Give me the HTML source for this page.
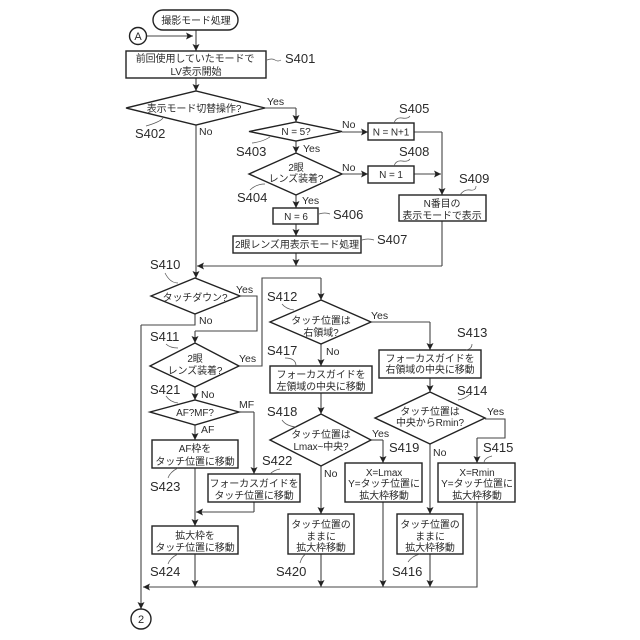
<!DOCTYPE html>
<html><head><meta charset="utf-8"><style>
html,body{margin:0;padding:0;background:#fff}
svg{display:block}
.b{fill:#fff;stroke:#222;stroke-width:1.4}
.l{fill:none;stroke:#444;stroke-width:1.1}
.a{fill:none;stroke:#444;stroke-width:1.1;marker-end:url(#m)}
.c{fill:none;stroke:#555;stroke-width:.7}
text{fill:#2a2a2a}
.t{font:10px "Liberation Sans","Noto Sans CJK JP",sans-serif;text-anchor:middle;letter-spacing:-.1px}
.s{font:13px "Liberation Sans",sans-serif}
.y{font:10.5px "Liberation Sans",sans-serif}
</style></head><body>
<svg width="640" height="640" viewBox="0 0 640 640" xmlns="http://www.w3.org/2000/svg">
<defs><marker id="m" markerUnits="userSpaceOnUse" markerWidth="8" markerHeight="8" refX="7" refY="3.5" orient="auto"><path d="M0 0L7 3.5L0 7L1.5 3.5Z" fill="#222"/></marker></defs>

<!-- connectors -->
<path class="a" d="M196 30V51"/>
<path class="a" d="M146 36H193"/>
<path class="a" d="M196 78V91"/>
<path class="l" d="M196 125V266"/>
<path class="a" d="M196 266V278"/>
<path class="l" d="M265 108H296"/>
<path class="a" d="M296 108V122"/>
<path class="a" d="M296 141V153"/>
<path class="a" d="M296 195V208"/>
<path class="a" d="M296 224V236"/>
<path class="a" d="M296 253V266"/>
<path class="a" d="M342 132H368"/>
<path class="a" d="M342 174H368"/>
<path class="l" d="M414 132H442"/>
<path class="a" d="M442 132V195"/>
<path class="a" d="M414 174H441"/>
<path class="l" d="M442 221V266"/>
<path class="a" d="M442 266H197"/>
<path class="l" d="M240 296H257V331H195"/>
<path class="a" d="M195 331V343"/>
<path class="l" d="M195 314V325H141"/>
<path class="a" d="M141 325V609"/>
<path class="l" d="M239 366H262V278H321"/>
<path class="a" d="M321 278V300"/>
<path class="a" d="M195 387V400"/>
<path class="a" d="M195 425V440"/>
<path class="l" d="M239 412H254"/>
<path class="a" d="M254 412V474"/>
<path class="a" d="M195 468V526"/>
<path class="l" d="M254 502V512"/>
<path class="a" d="M254 512H196"/>
<path class="a" d="M195 554V587"/>
<path class="a" d="M321 344V366"/>
<path class="a" d="M321 393V414"/>
<path class="l" d="M371 440H383"/>
<path class="a" d="M383 440V463"/>
<path class="a" d="M321 466V514"/>
<path class="a" d="M321 554V587"/>
<path class="a" d="M383 502V587"/>
<path class="l" d="M371 322H430"/>
<path class="a" d="M430 322V350"/>
<path class="a" d="M430 378V392"/>
<path class="a" d="M430 444V514"/>
<path class="a" d="M430 554V587"/>
<path class="l" d="M485 419H505V438H477"/>
<path class="a" d="M477 438V463"/>
<path class="l" d="M477 502V587H150"/>
<path class="a" d="M160 587H143"/>

<!-- nodes -->
<rect class="b" x="153" y="10" width="85" height="20" rx="10"/>
<circle class="b" cx="138" cy="36" r="8.5"/>
<circle class="b" cx="141" cy="619" r="10"/>
<rect class="b" x="126" y="51" width="140" height="27"/>
<polygon class="b" points="126,108 196,91 265,108 196,125"/>
<polygon class="b" points="249,131.5 296,122 342,131.5 296,141"/>
<rect class="b" x="368" y="123" width="46" height="17"/>
<polygon class="b" points="249,174 296,153 342,174 296,195"/>
<rect class="b" x="368" y="166" width="46" height="17"/>
<rect class="b" x="399" y="195" width="87" height="26"/>
<rect class="b" x="273" y="208" width="45" height="16"/>
<rect class="b" x="233" y="236" width="128" height="17"/>
<polygon class="b" points="151,296 195,278 240,296 195,314"/>
<polygon class="b" points="150,366 195,343 239,366 195,387"/>
<polygon class="b" points="150,412 195,400 239,412 195,425"/>
<rect class="b" x="152" y="440" width="86" height="28"/>
<rect class="b" x="208" y="474" width="92" height="28"/>
<rect class="b" x="152" y="526" width="86" height="28"/>
<polygon class="b" points="270,322 321,300 371,322 321,344"/>
<rect class="b" x="270" y="366" width="102" height="27"/>
<polygon class="b" points="270,440 321,414 371,440 321,466"/>
<rect class="b" x="379" y="350" width="102" height="28"/>
<polygon class="b" points="375,418 430,392 485,418 430,444"/>
<rect class="b" x="345" y="463" width="77" height="39"/>
<rect class="b" x="438" y="463" width="77" height="39"/>
<rect class="b" x="288" y="514" width="66" height="40"/>
<rect class="b" x="397" y="514" width="66" height="40"/>

<!-- leader curves -->
<path class="c" d="M267 60Q272 58 275 60T281 60"/>
<path class="c" d="M146 126Q160 122 163 118"/>
<path class="c" d="M252 143Q262 142 270 137"/>
<path class="c" d="M250 190Q256 184 265 184"/>
<path class="c" d="M319 214Q325 212 330 214"/>
<path class="c" d="M362 240Q368 238 374 240"/>
<path class="c" d="M394 123Q396 117 402 118T410 116"/>
<path class="c" d="M394 166Q396 160 402 161T410 159"/>
<path class="c" d="M460 195Q464 189 470 190T476 186"/>
<path class="c" d="M165 273Q170 283 178 283"/>
<path class="c" d="M166 344Q170 348 178 348"/>
<path class="c" d="M166 396Q170 402 178 403"/>
<path class="c" d="M282 304Q286 309 294 310"/>
<path class="c" d="M285 358Q296 358 296 366"/>
<path class="c" d="M282 420Q286 426 296 427"/>
<path class="c" d="M168 478Q170 472 178 468"/>
<path class="c" d="M270 474Q274 470 280 469"/>
<path class="c" d="M168 564Q170 558 178 554"/>
<path class="c" d="M300 563Q302 556 306 554"/>
<path class="c" d="M408 562Q412 556 420 554"/>
<path class="c" d="M472 344Q472 349 466 350"/>
<path class="c" d="M458 400Q465 399 470 394"/>
<path class="c" d="M484 463Q484 458 492 456"/>

<!-- node text -->
<text class="t" x="196" y="24">撮影モード処理</text>
<text style="font:11px 'Liberation Sans',sans-serif;text-anchor:middle" x="138" y="40">A</text>
<text style="font:11px 'Liberation Sans',sans-serif;text-anchor:middle" x="141" y="623">2</text>
<text class="t" x="195" y="62">前回使用していたモードで</text>
<text class="t" x="196" y="75">LV表示開始</text>
<text class="t" x="194" y="112">表示モード切替操作?</text>
<text class="t" x="296" y="135">N = 5?</text>
<text class="t" x="391" y="135.500">N = N+1</text>
<text class="t" x="296" y="171">2眼</text>
<text class="t" x="296" y="182">レンズ装着?</text>
<text class="t" x="391" y="178">N = 1</text>
<text class="t" x="442" y="207">N番目の</text>
<text class="t" x="442" y="219">表示モードで表示</text>
<text class="t" x="296" y="220">N = 6</text>
<text class="t" x="297" y="248">2眼レンズ用表示モード処理</text>
<text class="t" x="195" y="301">タッチダウン?</text>
<text class="t" x="195" y="362">2眼</text>
<text class="t" x="195" y="374">レンズ装着?</text>
<text class="t" x="195" y="416">AF?MF?</text>
<text class="t" x="195" y="452">AF枠を</text>
<text class="t" x="195" y="465">タッチ位置に移動</text>
<text class="t" x="254" y="487">フォーカスガイドを</text>
<text class="t" x="254" y="499">タッチ位置に移動</text>
<text class="t" x="195" y="539">拡大枠を</text>
<text class="t" x="195" y="551">タッチ位置に移動</text>
<text class="t" x="321" y="324">タッチ位置は</text>
<text class="t" x="321" y="336">右領域?</text>
<text class="t" x="321" y="378">フォーカスガイドを</text>
<text class="t" x="321" y="390">左領域の中央に移動</text>
<text class="t" x="321" y="438">タッチ位置は</text>
<text class="t" x="321" y="450">Lmax~中央?</text>
<text class="t" x="430" y="362">フォーカスガイドを</text>
<text class="t" x="430" y="373">右領域の中央に移動</text>
<text class="t" x="430" y="415">タッチ位置は</text>
<text class="t" x="430" y="426">中央からRmin?</text>
<text class="t" x="384" y="476">X=Lmax</text>
<text class="t" x="384" y="487">Y=タッチ位置に</text>
<text class="t" x="384" y="499">拡大枠移動</text>
<text class="t" x="477" y="476">X=Rmin</text>
<text class="t" x="477" y="487">Y=タッチ位置に</text>
<text class="t" x="477" y="499">拡大枠移動</text>
<text class="t" x="321" y="528">タッチ位置の</text>
<text class="t" x="321" y="540">ままに</text>
<text class="t" x="321" y="551">拡大枠移動</text>
<text class="t" x="430" y="528">タッチ位置の</text>
<text class="t" x="430" y="540">ままに</text>
<text class="t" x="430" y="551">拡大枠移動</text>

<!-- step labels -->
<text class="s" x="285" y="63">S401</text>
<text class="s" x="135" y="138">S402</text>
<text class="s" x="236" y="156">S403</text>
<text class="s" x="237" y="202">S404</text>
<text class="s" x="399" y="113">S405</text>
<text class="s" x="333" y="219">S406</text>
<text class="s" x="377" y="244">S407</text>
<text class="s" x="399" y="156">S408</text>
<text class="s" x="459" y="183">S409</text>
<text class="s" x="150" y="269">S410</text>
<text class="s" x="150" y="341">S411</text>
<text class="s" x="267" y="301">S412</text>
<text class="s" x="457" y="337">S413</text>
<text class="s" x="457" y="395">S414</text>
<text class="s" x="483" y="452">S415</text>
<text class="s" x="392" y="576">S416</text>
<text class="s" x="267" y="355">S417</text>
<text class="s" x="267" y="416">S418</text>
<text class="s" x="389" y="452">S419</text>
<text class="s" x="276" y="576">S420</text>
<text class="s" x="150" y="394">S421</text>
<text class="s" x="262" y="465">S422</text>
<text class="s" x="150" y="491">S423</text>
<text class="s" x="150" y="576">S424</text>

<!-- branch labels -->
<text class="y" x="267" y="105">Yes</text>
<text class="y" x="199" y="135">No</text>
<text class="y" x="342" y="128">No</text>
<text class="y" x="303" y="152">Yes</text>
<text class="y" x="342" y="171">No</text>
<text class="y" x="302" y="204">Yes</text>
<text class="y" x="236" y="293">Yes</text>
<text class="y" x="199" y="324">No</text>
<text class="y" x="239" y="362">Yes</text>
<text class="y" x="201" y="398">No</text>
<text class="y" x="239" y="408">MF</text>
<text class="y" x="201" y="433">AF</text>
<text class="y" x="371" y="319">Yes</text>
<text class="y" x="326" y="355">No</text>
<text class="y" x="372" y="437">Yes</text>
<text class="y" x="324" y="477">No</text>
<text class="y" x="487" y="415">Yes</text>
<text class="y" x="433" y="456">No</text>
</svg>
</body></html>
